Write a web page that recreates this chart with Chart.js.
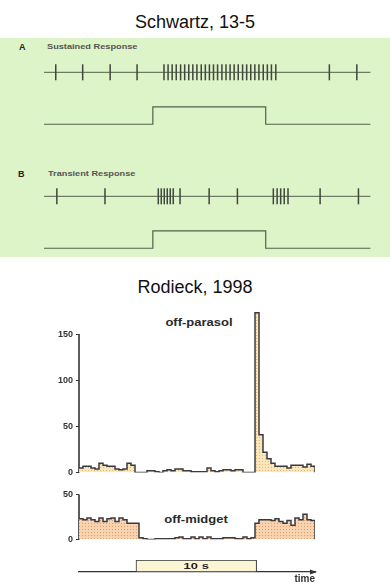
<!DOCTYPE html>
<html lang="en">
<head>
  <meta charset="UTF-8">
  <title>Sustained and transient responses</title>
  <script src="https://cdn.jsdelivr.net/npm/chart.js@4.4.2/dist/chart.umd.min.js"></script>
  <style>
    body {
      margin: 0;
      width: 390px;
      height: 586px;
      background: #fff;
      position: relative;
      overflow: hidden;
      font-family: "Liberation Sans", Arial, sans-serif;
    }
    .abs { position: absolute; white-space: nowrap; }
    .heading { left: 0; width: 390px; text-align: center; font-size: 18px; line-height: 20px; color: #111; }
    .panel { left: 0; top: 38px; width: 390px; height: 219px; background: #ddf3c8; }
    .tag { font-size: 8px; line-height: 10px; font-weight: bold; color: #555; transform-origin: 0 50%; transform: scaleX(1.15); }
    .letter { font-size: 9px; line-height: 10px; font-weight: bold; color: #222; }
    .cell { width: 100px; text-align: center; font-size: 10px; line-height: 12px; font-weight: bold; color: #2a2a2a; transform: scaleX(1.3); }
    canvas { position: absolute; }
  </style>
</head>
<body>
  <div class="abs heading" style="top:12px">Schwartz, 13-5</div>
  <div class="abs panel"></div>
  <div class="abs letter" style="left:19px;top:42px">A</div>
  <div class="abs tag" style="left:47px;top:42px">Sustained Response</div>
  <div class="abs letter" style="left:18px;top:169px">B</div>
  <div class="abs tag" style="left:48px;top:169px">Transient Response</div>
  <canvas id="trainA" width="390" height="80" style="left:0;top:55px"></canvas>
  <canvas id="trainB" width="390" height="80" style="left:0;top:179px"></canvas>

  <div class="abs heading" style="top:277px">Rodieck, 1998</div>
  <div class="abs cell" style="left:149px;top:317px">off-parasol</div>
  <div class="abs cell" style="left:146px;top:514px">off-midget</div>
  <canvas id="parasol" width="280" height="183" style="left:39px;top:298px"></canvas>
  <canvas id="midget" width="280" height="62" style="left:39px;top:486px"></canvas>
  <canvas id="stim" width="280" height="27" style="left:39px;top:558px"></canvas>

<script>
// spike trains (time in arbitrary units, stimulus on 4 -> 8.15)
const trainEnd = 12;
const trainStimOn = 4;
const trainStimOff = 8.15;
const sustainedSpikes = [0.43, 1.42, 2.43, 3.42,
  4.41, 4.56, 4.71, 4.86, 5.02, 5.17, 5.32, 5.47, 5.62, 5.78, 5.93, 6.08, 6.23, 6.38,
  6.54, 6.69, 6.84, 6.99, 7.14, 7.30, 7.45, 7.60, 7.75, 7.90, 8.06, 8.21, 8.36, 8.52,
  10.49, 11.5];
const transientSpikes = [0.47, 2.24, 4.20, 4.31, 4.42, 4.53, 4.64, 4.75, 5.0, 6.07, 7.11,
  8.43, 8.57, 8.70, 8.83, 8.97, 10.15, 11.56];

// PSTH bins, 1/3 s each
const binWidth = 1 / 3;
const parasolRate = [5, 7, 7, 5, 4, 10, 8, 7, 7, 4, 3, 4, 10, 8,
  0, 0, 0, 2, 2, 1, 0, 2, 3, 2, 4, 4, 2, 2, 1, 1, 1, 1, 5, 2, 1, 2, 3, 3, 2, 3, 3, 0, 0, 0,
  173, 41, 22, 15, 10, 7, 7, 7, 5, 8, 8, 8, 6, 9, 7];
const midgetRate = [23, 22, 24, 22, 20, 24, 20, 23, 24, 20, 24, 22, 18, 18, 18,
  2, 1, 0, 0, 1, 1, 1, 1, 1, 2, 3, 1, 1, 3, 1, 3, 1, 3, 1, 1, 1, 2, 2, 2, 1, 1, 3, 1, 2,
  18, 22, 22, 22, 21, 23, 20, 18, 21, 16, 24, 22, 28, 22, 21];
const parasolTicks = [0, 50, 100, 150];
const midgetTicks = [0, 50];
const stimStart = 4.75;
const stimEnd = 14.8;
const stimLabel = '10 s';

const histEnd = parasolRate.length * binWidth;
const ink = '#3a3a40';
const axisInk = '#333';
const traceInk = '#55604e';
const spikeInk = '#3f463d';

Chart.defaults.font.family = '"Liberation Sans", Arial, sans-serif';
Chart.defaults.animation = false;
Chart.defaults.plugins.legend.display = false;
Chart.defaults.plugins.tooltip.enabled = false;

function stipple(ctx, base, dot) {
  const c = document.createElement('canvas');
  c.width = 3; c.height = 3;
  const g = c.getContext('2d');
  g.fillStyle = base; g.fillRect(0, 0, 3, 3);
  g.fillStyle = dot; g.fillRect(1, 1, 1, 1);
  return ctx.createPattern(c, 'repeat');
}

// one spike train row plus the stimulus trace under it
function trainChart(id, spikes) {
  const ctx = document.getElementById(id).getContext('2d');
  const row = 3;
  return new Chart(ctx, {
    type: 'scatter',
    data: {
      datasets: [{
        data: spikes.map(t => ({ x: t, y: row })),
        pointStyle: 'line',
        pointRotation: 90,
        pointRadius: 8,
        pointBorderWidth: 1.5,
        pointBorderColor: spikeInk
      }, {
        data: [{ x: 0, y: row }, { x: trainEnd, y: row }],
        showLine: true, pointRadius: 0, borderWidth: 1, borderColor: traceInk
      }, {
        data: [{ x: 0, y: 0 }, { x: trainStimOn, y: 1 }, { x: trainStimOff, y: 0 }, { x: trainEnd, y: 0 }],
        showLine: true, stepped: true, pointRadius: 0, borderWidth: 1.2, borderColor: traceInk
      }]
    },
    options: {
      responsive: false,
      layout: { padding: 0, autoPadding: false },
      scales: {
        x: { type: 'linear', display: false, min: -1.62, max: 12.72 },
        y: { display: false, min: -0.62, max: 4.0 }
      }
    }
  });
}

trainChart('trainA', sustainedSpikes);
trainChart('trainB', transientSpikes);

// PSTH as a stepped outline filled down to zero; the vertical axis line
// only runs up to the last tick, so it is drawn as its own dataset
function histChart(id, rates, yMax, ticks, base, dot, padTop, padBottom) {
  const ctx = document.getElementById(id).getContext('2d');
  const pts = rates.map((v, i) => ({ x: i * binWidth, y: v }));
  pts.push({ x: histEnd, y: 0 });
  return new Chart(ctx, {
    type: 'line',
    data: {
      datasets: [{
        data: pts,
        stepped: true,
        fill: 'origin',
        backgroundColor: stipple(ctx, base, dot),
        borderColor: ink,
        borderWidth: 1.5,
        pointRadius: 0
      }, {
        data: [{ x: 0, y: 0 }, { x: 0, y: ticks[ticks.length - 1] }],
        clip: false,
        borderColor: axisInk,
        borderWidth: 1.6,
        pointRadius: 0
      }]
    },
    options: {
      responsive: false,
      layout: { padding: { top: padTop, bottom: padBottom, left: 0, right: 4 }, autoPadding: false },
      scales: {
        x: { type: 'linear', display: false, min: 0, max: histEnd },
        y: {
          min: 0, max: yMax,
          afterBuildTicks: s => { s.ticks = ticks.map(v => ({ value: v })); },
          afterFit: s => { s.width = 40; },
          ticks: { font: { size: 9, weight: 'bold' }, color: '#333', padding: 3 },
          grid: { drawOnChartArea: false, drawTicks: true, tickLength: 3, color: axisInk },
          border: { display: false }
        }
      }
    }
  });
}

histChart('parasol', parasolRate, 180, parasolTicks, '#f8e6bd', '#e8b36e', 2, 8);
histChart('midget', midgetRate, 50, midgetTicks, '#f7d3b0', '#e49e6c', 6, 8);

// stimulus box on the time axis, with its label and an arrow head
const stimMarks = {
  id: 'stimMarks',
  afterDatasetsDraw(chart) {
    const ctx = chart.ctx;
    const bar = chart.getDatasetMeta(0).data[0];
    const { x, base, y } = bar.getProps(['x', 'base', 'y'], true);
    ctx.save();
    ctx.font = 'bold 9px "Liberation Sans", Arial';
    ctx.fillStyle = '#222';
    ctx.textAlign = 'center';
    ctx.textBaseline = 'middle';
    ctx.translate((x + base) / 2, y + 1);
    ctx.scale(1.45, 1);
    ctx.fillText(stimLabel, 0, 0);
    ctx.restore();

    const a = chart.chartArea;
    ctx.save();
    ctx.fillStyle = '#333';
    ctx.beginPath();
    ctx.moveTo(a.right + 2, a.bottom);
    ctx.lineTo(a.right - 5, a.bottom - 2.5);
    ctx.lineTo(a.right - 5, a.bottom + 2.5);
    ctx.closePath();
    ctx.fill();
    ctx.restore();
  }
};

new Chart(document.getElementById('stim').getContext('2d'), {
  type: 'bar',
  data: {
    labels: ['stimulus'],
    datasets: [{
      data: [[stimStart, stimEnd]],
      backgroundColor: '#fbf5d6',
      borderColor: '#333',
      borderWidth: 1,
      borderSkipped: false,
      barPercentage: 1,
      categoryPercentage: 1
    }]
  },
  options: {
    responsive: false,
    indexAxis: 'y',
    layout: { padding: { top: 2, bottom: 0, left: 40, right: 4 }, autoPadding: false },
    scales: {
      x: {
        type: 'linear', min: 0, max: histEnd,
        ticks: { display: false },
        grid: { display: false, drawTicks: false },
        border: { display: true, color: '#333', width: 1.2 },
        title: { display: true, text: 'time', align: 'end', color: '#333',
                 font: { size: 10, weight: 'bold' }, padding: { top: 1, bottom: 0 } }
      },
      y: { display: false }
    }
  },
  plugins: [stimMarks]
});
</script>
</body>
</html>
